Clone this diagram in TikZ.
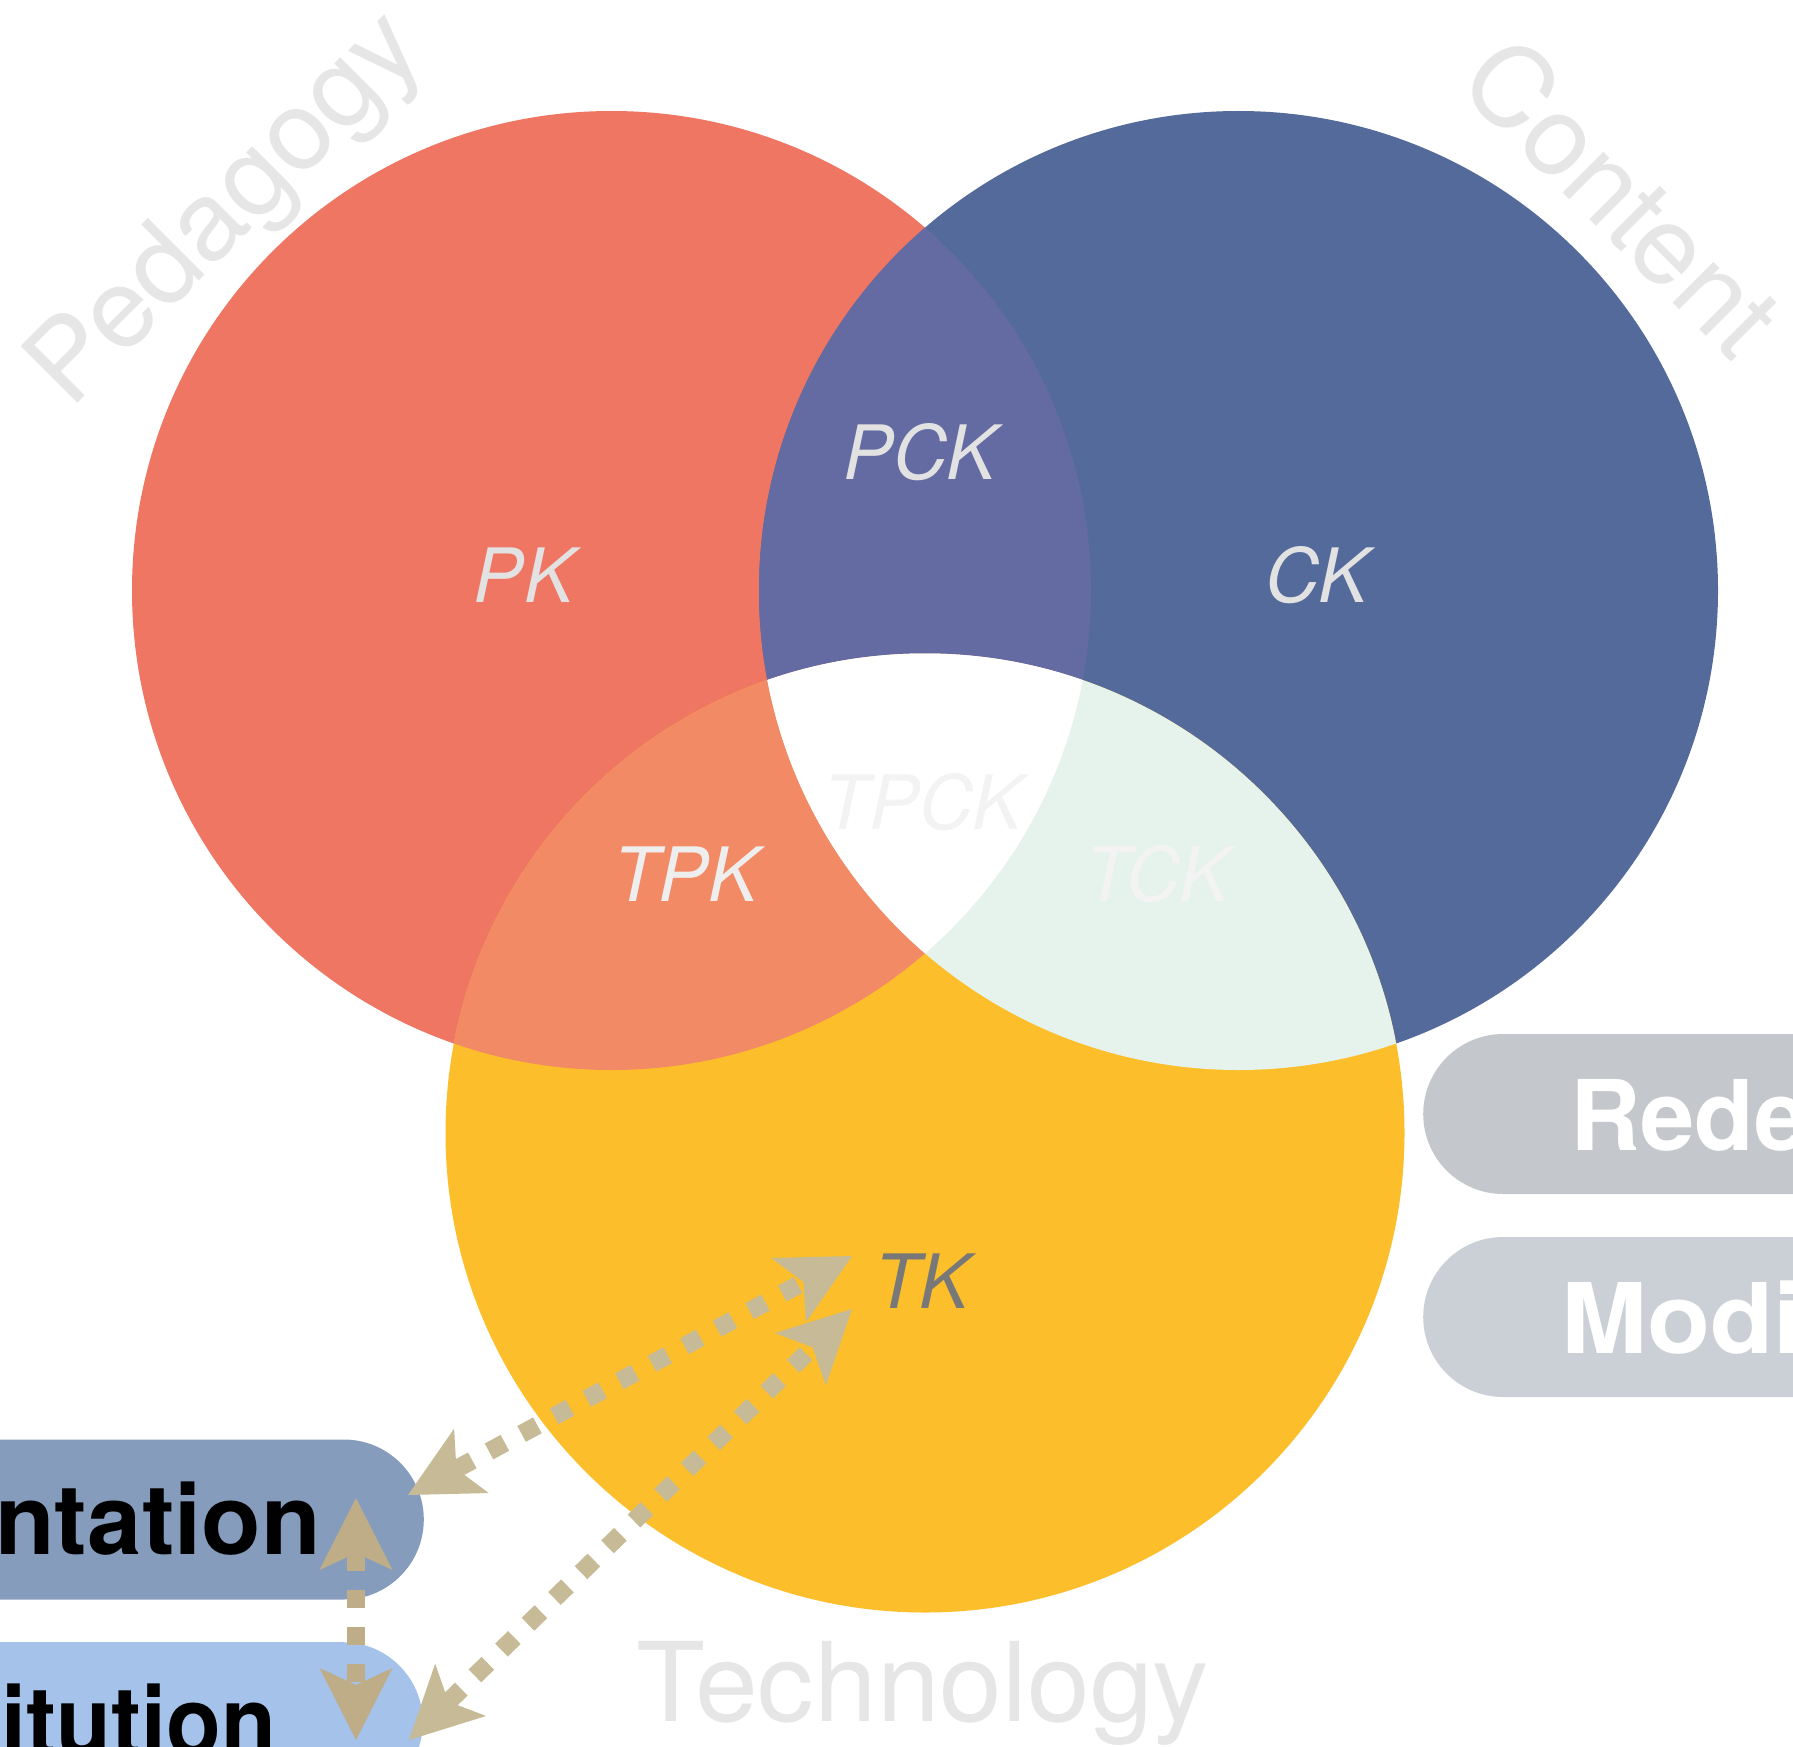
\documentclass[tikz,border=0pt]{standalone}
\usepackage{fontspec}
\setmainfont{TeX Gyre Heros}
\usetikzlibrary{arrows.meta}
\definecolor{cP}{HTML}{EE7662}
\definecolor{cC}{HTML}{546A9A}
\definecolor{cT}{HTML}{FCBF2B}
\definecolor{cPC}{HTML}{646AA2}
\definecolor{cPT}{HTML}{F28A65}
\definecolor{cCT}{HTML}{E5F3EC}
\definecolor{cTitle}{HTML}{E6E6E6}
\definecolor{cLabA}{HTML}{E2E2E2}
\definecolor{cLabB}{HTML}{EEEEEE}
\definecolor{cLabC}{HTML}{F3F3F3}
\definecolor{cLabTK}{HTML}{787878}
\definecolor{cRedef}{HTML}{C4C7CC}
\definecolor{cModif}{HTML}{CBD0D7}
\definecolor{cAugm}{HTML}{869CBC}
\definecolor{cSubst}{HTML}{A5C2EA}
\definecolor{cArrD}{HTML}{C7BA97}
\definecolor{cArrV}{HTML}{BEAD86}
\def\myR{479.5pt}
\begin{document}
\begin{tikzpicture}[x=1pt,y=-1pt,
  lab/.style={font=\fontsize{75}{80}\selectfont\itshape, inner sep=0pt, anchor=base},
  ttl/.style={font=\fontsize{110}{120}\selectfont, text=cTitle, inner sep=0pt},
  pill/.style={rectangle, rounded corners=80pt, minimum height=160pt, minimum width=900pt, inner sep=0pt, draw=none},
  bt/.style={font=\fontsize{97.5}{100}\selectfont\bfseries, inner sep=0pt},
  dotarrow/.style={line width=18pt, dash pattern=on 18pt off 19pt,
    arrows={Stealth[length=72pt,width=73pt,inset=17pt,line width=0pt]-Stealth[length=72pt,width=73pt,inset=17pt,line width=0pt]}}
]
\useasboundingbox (0,0) rectangle (1793,1747);
\clip (0,0) rectangle (1793,1747);
\fill[white] (0,0) rectangle (1793,1747);

\coordinate (P) at (611.5,590.5);
\coordinate (C) at (1238.5,590.5);
\coordinate (T) at (925,1133);

% circles
\fill[cP] (P) circle[radius=\myR];
\fill[cC] (C) circle[radius=\myR];
\fill[cT] (T) circle[radius=\myR];
\begin{scope}
  \clip (P) circle[radius=\myR];
  \fill[cPC] (C) circle[radius=\myR];
  \fill[cPT] (T) circle[radius=\myR];
\end{scope}
\begin{scope}
  \clip (C) circle[radius=\myR];
  \fill[cCT] (T) circle[radius=\myR];
\end{scope}
\begin{scope}
  \clip (P) circle[radius=\myR];
  \clip (C) circle[radius=\myR];
  \fill[white] (T) circle[radius=\myR];
\end{scope}

% titles
\node[ttl, rotate=45, xscale=1.025, anchor=base west] (ped) at (70.4,410.2) {Pedagogy};
\node[ttl, rotate=-45, xscale=1.025, anchor=base west] (con) at (1455.5,85.5) {Content};
\node[ttl, xscale=1.025, anchor=base] (tech) at (923,1721) {Technology};

% region labels
\node[lab, text=cLabA] (pk) at (524,602) {PK};
\node[lab, text=cLabA] (pck) at (920,479) {PCK};
\node[lab, text=cLabA] (ck) at (1317,602) {CK};
\node[lab, text=cLabB] (tpk) at (686,901) {TPK};
\node[lab, text=cLabC] (tpck) at (923,829) {TPCK};
\node[lab, text=cLabC] (tck) at (1157,901) {TCK};
\node[lab, text=cLabTK] (tk) at (922,1308) {TK};

% SAMR boxes
\node[pill, fill=cRedef, anchor=west] (redefbox) at (1423,1114) {};
\node[bt, text=white, anchor=base west] (redeft) at (1570,1150) {Redefinition};
\node[pill, fill=cModif, anchor=west] (modbox) at (1423,1317) {};
\node[bt, text=white, xscale=1.06, anchor=base west] (modt) at (1561,1353) {Modification};
\node[pill, fill=cAugm, anchor=east] (augbox) at (424,1519.5) {};
\node[bt, text=black, anchor=base east] (augt) at (321,1554) {Augmentation};
\node[pill, fill=cSubst, anchor=north east] (subbox) at (423,1642) {};
\node[bt, text=black, xscale=0.92, anchor=base east] (subt) at (276,1756) {Substitution};

% arrows
\coordinate (a1s) at (408,1495);
\coordinate (a1e) at (852,1256);
\coordinate (a2s) at (409,1740);
\coordinate (a2e) at (852,1309);
\coordinate (v1s) at (356,1498);
\coordinate (v1e) at (356,1740);
\draw[dotarrow, cArrD] (a1s) -- (a1e);
\draw[dotarrow, cArrD] (a2s) -- (a2e);
\draw[dotarrow, cArrV] (v1s) -- (v1e);
\end{tikzpicture}
\end{document}
